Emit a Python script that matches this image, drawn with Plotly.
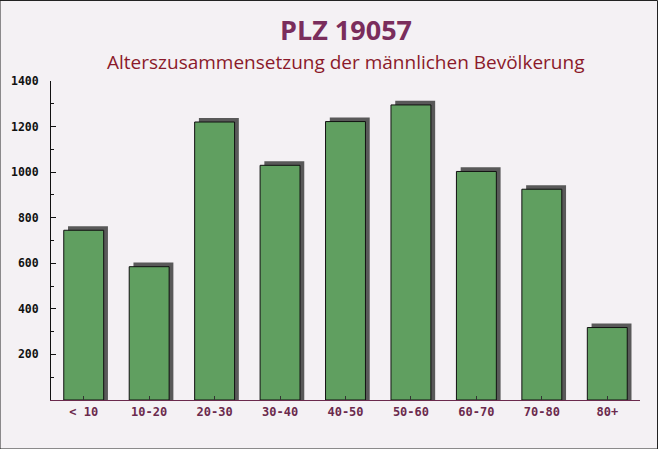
import plotly.graph_objects as go

categories = ["< 10", "10-20", "20-30", "30-40", "40-50", "50-60", "60-70", "70-80", "80+"]
values = [745, 585, 1220, 1030, 1222, 1295, 1003, 925, 318]
y_ticks = [200, 400, 600, 800, 1000, 1200, 1400]

idx = list(range(len(categories)))
shadow_lift = 18  # shadow offset in value units (~4px)

fig = go.Figure()
fig.add_trace(go.Bar(
    x=idx, y=[v + shadow_lift for v in values],
    width=0.61, offset=-0.24,
    marker=dict(color="#595959", line=dict(width=0)),
    hoverinfo="skip", showlegend=False,
))
fig.add_trace(go.Bar(
    x=idx, y=values,
    width=0.61, offset=-0.305,
    marker=dict(color="#609f60", line=dict(color="#111111", width=1)),
    showlegend=False,
))

fig.update_layout(
    width=658, height=449,
    margin=dict(l=51, r=18, t=81, b=49, autoexpand=False),
    barmode="overlay",
    paper_bgcolor="#f4f1f4",
    plot_bgcolor="rgba(0,0,0,0)",
    font=dict(family="DejaVu Sans Mono", size=11, color="#111111"),
    annotations=[
        dict(text="<b>PLZ 19057</b>", xref="paper", yref="paper", x=0.5, y=1.0,
             yshift=52, showarrow=False, xanchor="center", yanchor="middle",
             font=dict(family="Open Sans", size=27, color="#7a2d5c")),
        dict(text="Alterszusammensetzung der männlichen Bevölkerung", xref="paper", yref="paper",
             x=0.5, y=1.0, yshift=19, showarrow=False, xanchor="center", yanchor="middle",
             font=dict(family="Open Sans", size=19, color="#8b1a2a")),
    ],
    shapes=[
        dict(type="rect", xref="paper", yref="paper",
             x0=-51/589, x1=1 + 17.5/589, y0=-49/319, y1=1 + 80.5/319,
             line=dict(color="#222222", width=1), fillcolor="rgba(0,0,0,0)", layer="below"),
    ],
)

fig.update_xaxes(
    range=[-0.5, len(categories) - 0.5],
    tickmode="array", tickvals=idx, ticktext=categories,
    showgrid=False, zeroline=False, automargin=False,
    showline=True, linecolor="#6b2a4d", linewidth=1,
    ticks="inside", tickson="boundaries", ticklen=4, tickcolor="#333333",
    tickfont=dict(family="DejaVu Sans Mono", size=12, color="#6b2a4d", weight="bold"),
    ticklabelstandoff=1,
)
fig.update_yaxes(
    range=[0, 1400],
    tickmode="array", tickvals=y_ticks, ticktext=[str(t) for t in y_ticks],
    showgrid=False, zeroline=False, automargin=False,
    showline=True, linecolor="#111111", linewidth=1,
    ticks="inside", ticklen=5, tickcolor="#111111",
    minor=dict(ticks="inside", ticklen=3, dtick=100, tickcolor="#111111"),
    tickfont=dict(family="DejaVu Sans Mono", size=11.5, color="#111111", weight="bold"),
    ticklabelstandoff=9,
)

fig.write_html("out.html")
